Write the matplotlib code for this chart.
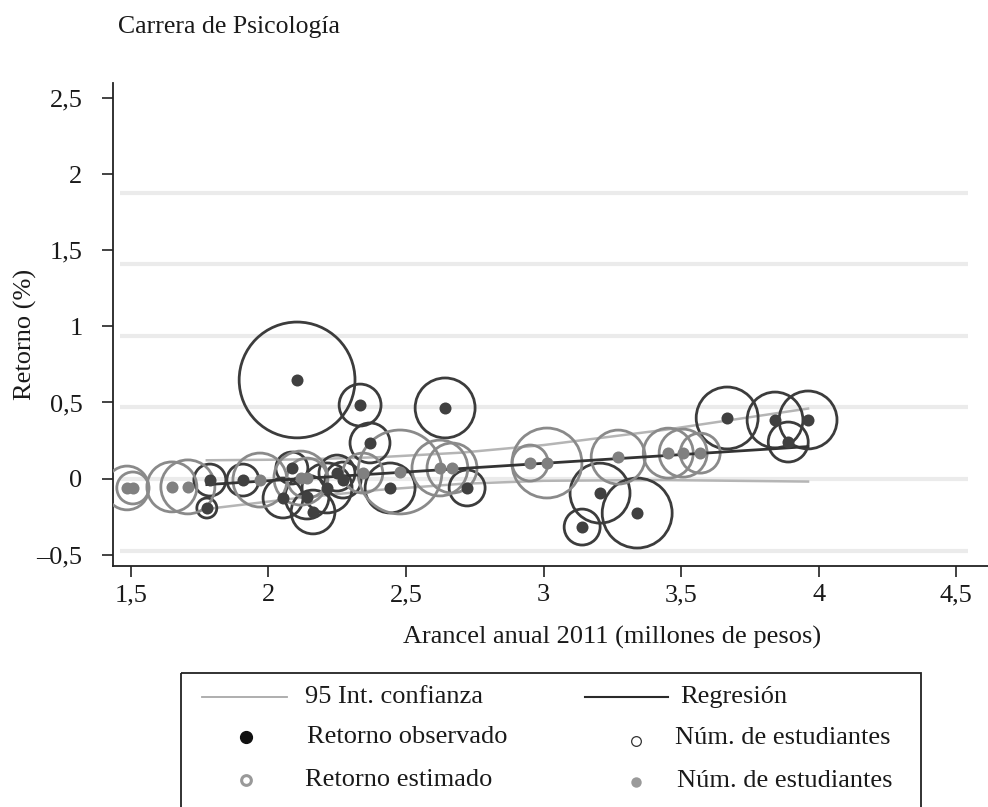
import matplotlib
matplotlib.use("Agg")
import matplotlib.pyplot as plt
from matplotlib.patches import Rectangle

plt.rcParams['font.family'] = ['Liberation Serif', 'DejaVu Serif']

# retorno observado (puntos oscuros) y tamaño (num. de estudiantes)
obs_x = [2.104, 2.333, 2.642, 2.369, 1.776, 1.787, 1.907, 2.053, 2.085, 2.140, 2.162,
         2.213, 2.249, 2.271, 2.442, 2.722, 3.140, 3.205, 3.340, 3.667, 3.841, 3.961, 3.889]
obs_y = [0.648, 0.483, 0.464, 0.234, -0.194, -0.010, -0.010, -0.128, 0.069, -0.122, -0.220,
         -0.062, 0.036, -0.010, -0.062, -0.062, -0.319, -0.096, -0.227, 0.398, 0.385, 0.385, 0.240]
obs_n = [3360, 440, 900, 400, 100, 256, 256, 400, 256, 480, 480,
         625, 324, 324, 625, 324, 324, 900, 1225, 960, 780, 840, 400]

# retorno estimado (puntos grises)
est_x = [1.486, 1.507, 1.649, 1.707, 1.969, 2.118, 2.140, 2.343, 2.478, 2.623, 2.667,
         2.951, 3.012, 3.271, 3.453, 3.507, 3.569]
est_y = [-0.062, -0.062, -0.055, -0.055, -0.010, 0.003, 0.003, 0.036, 0.043, 0.069, 0.069,
         0.102, 0.102, 0.141, 0.167, 0.167, 0.167]
est_n = [480, 256, 625, 730, 730, 730, 400, 400, 1764, 780, 625,
         324, 1225, 730, 625, 576, 400]

# regresion e intervalo de confianza
reg_x = [1.776, 3.961]
reg_y = [-0.04, 0.21]
ci_x = [1.776, 2.10, 2.40, 2.70, 3.00, 3.44, 3.961]
ci_hi = [0.12, 0.125, 0.14, 0.17, 0.22, 0.32, 0.46]
ci_lo = [-0.20, -0.13, -0.075, -0.035, -0.015, -0.01, -0.02]

xticks = [1.5, 2, 2.5, 3, 3.5, 4, 4.5]
xlabels = ['1,5', '2', '2,5', '3', '3,5', '4', '4,5']
yticks = [-0.5, 0, 0.5, 1, 1.5, 2, 2.5]
ylabels = ['–0,5', '0', '0,5', '1', '1,5', '2', '2,5']
grid_y = [-0.475, 0, 0.47, 0.94, 1.41, 1.88]

txt = '#1a1a1a'
fig = plt.figure(figsize=(9.88, 8.07), dpi=100)
ax = fig.add_axes([113/988, 1-566/807, 875/988, 483/807])
ax.set_xlim(1.435, 4.615)
ax.set_ylim(-0.575, 2.6)

ax.hlines(grid_y, 1.46, 4.543, color='#ebebeb', lw=3, zorder=0)
ax.plot(ci_x, ci_hi, color='#b5b5b5', lw=1.8, zorder=1)
ax.plot(ci_x, ci_lo, color='#b5b5b5', lw=1.8, zorder=1)

k = 2.07
ax.scatter(obs_x, obs_y, s=[n*k for n in obs_n], facecolors='none',
           edgecolors='#3c3c3c', linewidths=2.0, zorder=2)
ax.scatter(est_x, est_y, s=[n*k for n in est_n], facecolors='none',
           edgecolors='#8a8a8a', linewidths=2.0, zorder=3)
ax.plot(reg_x, reg_y, color='#333333', lw=2.0, zorder=4)
ax.scatter(obs_x, obs_y, s=75, color='#404040', zorder=5, linewidths=0)
ax.scatter(est_x, est_y, s=75, color='#808080', zorder=6, linewidths=0)

for s in ['top', 'right']:
    ax.spines[s].set_visible(False)
for s in ['left', 'bottom']:
    ax.spines[s].set_color('#222222')
    ax.spines[s].set_linewidth(1.3)
ax.set_xticks(xticks)
ax.set_xticklabels(xlabels)
ax.set_yticks(yticks)
ax.set_yticklabels(ylabels)
ax.tick_params(direction='out', length=8, width=1.2, color='#222222',
               labelsize=19, labelcolor=txt)
ax.tick_params(axis='y', pad=14)
ax.tick_params(axis='x', pad=5)

ax.set_xlabel('Arancel anual 2011 (millones de pesos)', fontsize=19, color=txt)
ax.xaxis.set_label_coords(0.570, -0.124)
ax.set_ylabel('Retorno (%)', fontsize=19, color=txt)
ax.yaxis.set_label_coords(-0.087, 0.48)

fig.text(118/988, 1-27/807, 'Carrera de Psicología', fontsize=18.5, va='center', color=txt)

# leyenda
lax = fig.add_axes([0, 0, 1, 1])
lax.set_xlim(0, 988)
lax.set_ylim(807, 0)
lax.axis('off')
lax.add_patch(Rectangle((181, 673), 740, 200, fill=False, ec='#222222', lw=1.3))
lax.plot([202, 287], [697, 697], color='#a8a8a8', lw=1.3)
lax.plot([585, 668], [697, 697], color='#2a2a2a', lw=1.5)
lax.plot([246], [737], 'o', ms=8.5, color='#111111')
lax.plot([636], [741], 'o', ms=7, mfc='none', mec='#333333', mew=0.9)
lax.plot([246], [780], 'o', ms=7, mfc='none', mec='#999999', mew=2.2)
lax.plot([636], [782], 'o', ms=7.5, color='#9a9a9a', mew=0)
leg_items = [(305, 697, '95 Int. confianza'), (307, 737, 'Retorno observado'),
             (305, 780, 'Retorno estimado'), (680, 697, 'Regresión'),
             (675, 738, 'Núm. de estudiantes'), (677, 781, 'Núm. de estudiantes')]
for x, y, t in leg_items:
    lax.text(x, y, t, fontsize=19, va='center', ha='left', color=txt)

fig.savefig('out.png', dpi=100)
